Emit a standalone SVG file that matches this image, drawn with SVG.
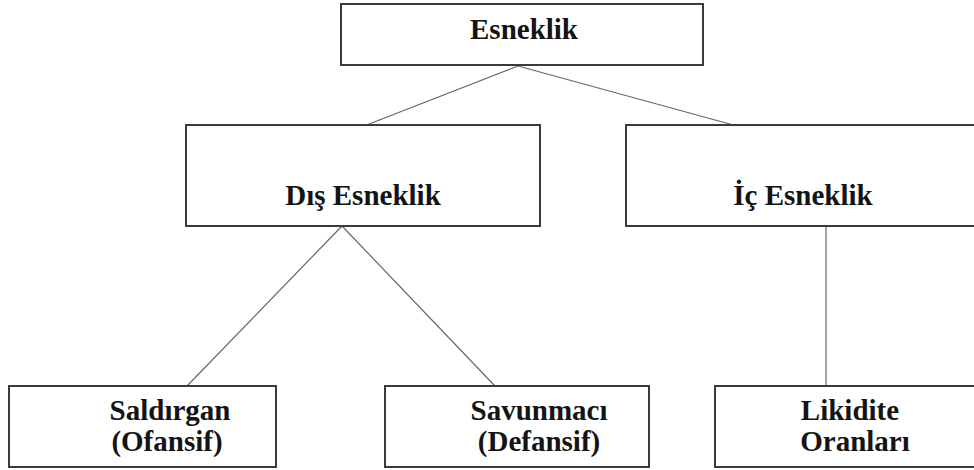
<svg xmlns="http://www.w3.org/2000/svg" width="974" height="470" viewBox="0 0 974 470">
<style>
.box{fill:#fff;stroke:#3a3a3a;stroke-width:2}
.lbl{font-family:'Liberation Serif','Times New Roman',serif;font-weight:700;font-size:29px;fill:#141414;text-anchor:middle}
.con{stroke:#666;stroke-width:1.2;fill:none}
</style>
<rect width="974" height="470" fill="#fff"/>
<g id="connectors">
<line class="con" x1="518" y1="66" x2="364" y2="126"/>
<line class="con" x1="518" y1="66" x2="737" y2="126"/>
<line class="con" x1="342" y1="226" x2="187" y2="386"/>
<line class="con" x1="342" y1="226" x2="495" y2="386"/>
<line class="con" x1="826" y1="226" x2="826" y2="386"/>
</g>
<g id="esneklik">
<rect class="box" x="341" y="4" width="362" height="61"/>
<text class="lbl" x="524" y="39">Esneklik</text>
</g>
<g id="dis-esneklik">
<rect class="box" x="186" y="125" width="354" height="101"/>
<text class="lbl" x="363" y="205">Dış Esneklik</text>
</g>
<g id="ic-esneklik">
<rect class="box" x="626" y="125" width="360" height="101"/>
<text class="lbl" x="803" y="205">İç Esneklik</text>
</g>
<g id="saldirgan">
<rect class="box" x="9" y="386" width="267" height="81"/>
<text class="lbl" x="170" y="420">Saldırgan</text>
<text class="lbl" x="167" y="451">(Ofansif)</text>
</g>
<g id="savunmaci">
<rect class="box" x="385" y="386" width="264" height="81"/>
<text class="lbl" x="539" y="420">Savunmacı</text>
<text class="lbl" x="539" y="451">(Defansif)</text>
</g>
<g id="likidite">
<rect class="box" x="715" y="386" width="270" height="81"/>
<text class="lbl" x="850" y="420">Likidite</text>
<text class="lbl" x="855" y="451">Oranları</text>
</g>
</svg>
